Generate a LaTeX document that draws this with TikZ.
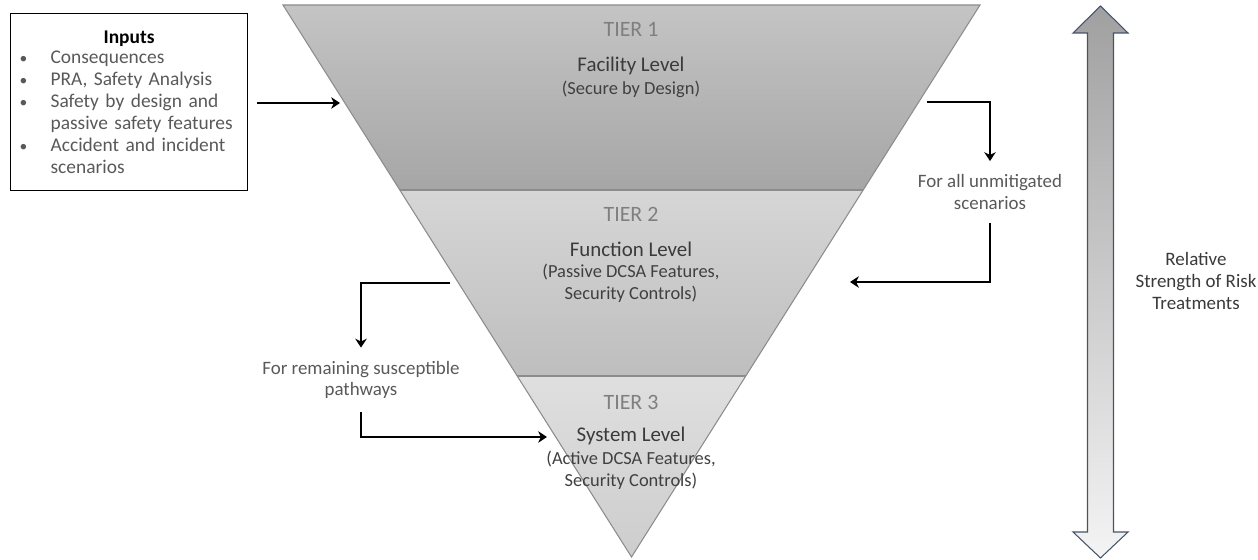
\documentclass[tikz,border=0pt]{standalone}
\usepackage{fontspec}
\setmainfont{Carlito}
\usetikzlibrary{arrows.meta,shapes.arrows}
\definecolor{tiergray}{HTML}{7F7F7F}
\definecolor{leveltxt}{HTML}{3A3A3A}
\definecolor{subtxt}{HTML}{404040}
\definecolor{notetxt}{HTML}{595959}
\definecolor{edgegray}{HTML}{8C8C8C}
\definecolor{arrowedge}{HTML}{44546A}
\newcommand{\bitem}[1]{\hangindent=0.68cm\hangafter=1\noindent\makebox[0.68cm][l]{\hspace{0.06cm}\scalebox{0.8}{\textbullet}}#1\par}
\tikzset{
  tiertitle/.style={text=tiergray, font=\fontsize{12.47pt}{14.7pt}\selectfont},
  leveltitle/.style={text=leveltxt, font=\fontsize{11.9pt}{13.6pt}\selectfont},
  levelsub/.style={text=subtxt, font=\fontsize{10.49pt}{12.47pt}\selectfont, align=center},
  note/.style={text=notetxt, font=\fontsize{10.77pt}{12.47pt}\selectfont, align=center, inner xsep=0pt, inner ysep=0.26cm},
  conn/.style={-{Stealth[length=5pt,width=6.5pt,inset=1.5pt]}, line width=1.2pt, black},
  tieredge/.style={draw=edgegray, line width=0.6pt},
}
\begin{document}
\begin{tikzpicture}[x=0.02cm, y=-0.02cm]
\useasboundingbox (0,0) rectangle (1258,560);
% tiers
\shade[top color={rgb,255:red,196;green,196;blue,196}, bottom color={rgb,255:red,166;green,166;blue,166}]
  (283,5) -- (980,5) -- (863.2,190) -- (399.8,190) -- cycle;
\shade[top color={rgb,255:red,214;green,214;blue,214}, bottom color={rgb,255:red,190;green,190;blue,190}]
  (399.8,190) -- (863.2,190) -- (745.8,376) -- (517.2,376) -- cycle;
\shade[top color={rgb,255:red,223;green,223;blue,223}, bottom color={rgb,255:red,205;green,205;blue,205}]
  (517.2,376) -- (745.8,376) -- (631.5,557) -- cycle;
\draw[tieredge] (283,5) -- (980,5) -- (631.5,557) -- cycle;
\draw[tieredge] (399.8,190) -- (863.2,190);
\draw[tieredge] (517.2,376) -- (745.8,376);
% tier texts
\node[tiertitle] (t1) at (631,29) {TIER 1};
\node[leveltitle] (l1) at (631,66) {Facility Level};
\node[levelsub] (s1) at (631,89) {(Secure by Design)};
\node[tiertitle] (t2) at (631,214) {TIER 2};
\node[leveltitle] (l2) at (631,249) {Function Level};
\node[levelsub] (s2) at (631,283) {(Passive DCSA Features,\\Security Controls)};
\node[tiertitle] (t3) at (631,402) {TIER 3};
\node[leveltitle] (l3) at (631,436) {System Level};
\node[levelsub] (s3) at (631,470) {(Active DCSA Features,\\Security Controls)};
% inputs box
\node[draw=black, line width=0.7pt, anchor=north west, minimum width=4.74cm, minimum height=3.54cm,
      text width=4.5cm, inner xsep=0.12cm, inner ysep=0pt, align=left,
      font=\fontsize{11.05pt}{12.47pt}\selectfont] (inputs) at (10,13) {%
  \vspace*{-0.08cm}\centering\textbf{Inputs}\par\vspace{0.06cm}
  \raggedright\color{notetxt}%
  \bitem{Consequences}
  \bitem{PRA, Safety Analysis}
  \bitem{Safety by design and\newline passive safety features}
  \bitem{Accident and incident\newline scenarios}};
\coordinate (inT) at (340,103);
\path (inputs.east |- inT) ++(9,0) coordinate (inS);
\draw[conn] (inS) -- (inT);
% right loop
\node[note] (unmit) at (990,192) {For all unmitigated\\scenarios};
\coordinate (r1) at (927,102);
\coordinate (r2) at (850,282);
\draw[conn] (r1) -| (unmit.north);
\draw[conn] (unmit.south) |- (r2);
% left loop
\node[note] (remain) at (361,380) {For remaining susceptible\\pathways};
\coordinate (q1) at (450,283);
\coordinate (q2) at (547,437);
\draw[conn] (q1) -| (remain.north);
\draw[conn] (remain.south) |- (q2);
% strength arrow
\shade[top color={rgb,255:red,160;green,160;blue,160}, bottom color={rgb,255:red,244;green,244;blue,244}, draw=arrowedge, line width=0.6pt]
  (1100.5,6) -- (1128,33) -- (1113.5,33) -- (1113.5,532) -- (1128,532) -- (1100.5,558) -- (1073,532) -- (1087.5,532) -- (1087.5,33) -- (1073,33) -- cycle;
\node[text=leveltxt, font=\fontsize{10.8pt}{12.76pt}\selectfont, align=center] (rel) at (1196,281) {Relative\\Strength of Risk\\Treatments};
\end{tikzpicture}
\end{document}
